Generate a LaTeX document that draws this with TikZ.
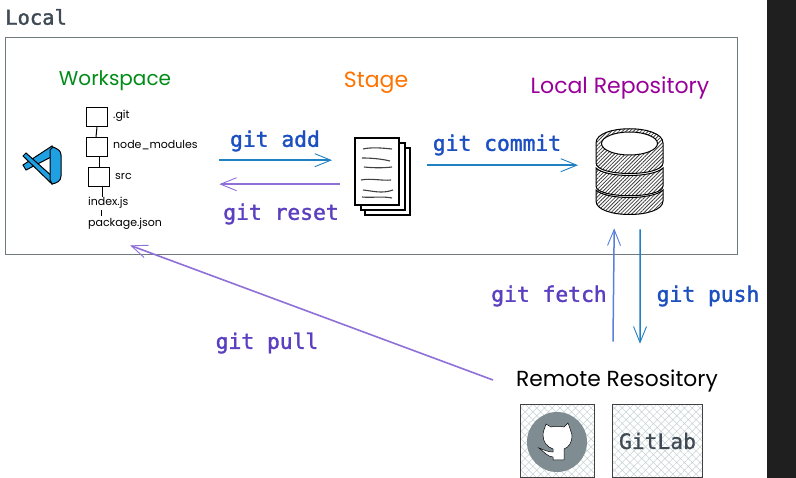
\documentclass[tikz,border=0pt]{standalone}
\usepackage{fontspec}
\usetikzlibrary{arrows.meta,patterns.meta}
\newfontfamily\handf{Poppins}
\newfontfamily\codef[FakeBold=1.6]{DejaVu Sans Mono}
\newfontfamily\plainf[FakeBold=0.8]{DejaVu Sans Mono}
\definecolor{cmdblue}{HTML}{1C4FC0}
\definecolor{cmdpurple}{HTML}{5B3FC0}
\definecolor{arrblue}{HTML}{1F80C4}
\definecolor{arrpurple}{HTML}{8F70D8}
\definecolor{arrfetch}{HTML}{5A80DC}
\definecolor{inkgray}{HTML}{3F4A54}
\definecolor{framegray}{HTML}{6F7A80}
\definecolor{logogray}{HTML}{7F8C92}
\definecolor{hatchgray}{HTML}{C5D2D6}
\definecolor{vscode}{HTML}{1FA0E3}
\tikzset{
  x=1pt,y=-1pt,
  cmd/.style={inner sep=0pt,font=\codef\fontsize{21.3}{24}\selectfont},
  title/.style={inner sep=0pt,font=\handf\fontsize{#1}{26}\selectfont},
  title/.default=20,
  small/.style={inner sep=0pt,anchor=west,font=\handf\fontsize{11}{14}\selectfont},
  sketch/.style={draw=black,line width=1pt},
  folder/.style={sketch,fill=white,inner sep=0pt,minimum width=21pt,minimum height=19pt,anchor=north west},
  group/.style={inner sep=0pt,anchor=north west},
  link/.style={line width=1.5pt,-{Straight Barb[length=16pt,width=13pt,line width=.9pt]}},
  logobox/.style={draw=black!75,line width=1pt,inner sep=0pt,anchor=north west,
    pattern={Hatch[angle=45,distance=5.5pt,line width=.5pt]},pattern color=hatchgray},
  hatched/.style={draw=black,line width=1pt,pattern={Lines[angle=45,distance=2.6pt,line width=.8pt]},pattern color=black!75},
}
\begin{document}
\begin{tikzpicture}
\useasboundingbox (0,0) rectangle (796,478);
\fill[white] (0,0) rectangle (796,478);
\fill[black!88] (767,0) rectangle (796,478);
\draw[framegray,line width=1pt] (5,38) rectangle (737,255);
\node[anchor=west,inner sep=0pt,text=inkgray,font=\codef\fontsize{20.5}{24}\selectfont] (local) at (5,17) {Local};

% titles
\node[title,text=green!50!black!90!cyan] (wstitle) at (115,81) {Workspace};
\node[title=22,text=orange!90!red] (stagetitle) at (376,83) {Stage};
\node[title=22,text=violet!80!magenta] (repotitle) at (620,88) {Local Repository};
\node[title=21.8,text=black] (remote) at (617,381) {Remote Resository};

% invisible group nodes for the connector ends
\node[group,minimum width=134pt,minimum height=130pt] (ws) at (85,105) {};
\node[group,minimum width=56pt,minimum height=77pt] (stage) at (354,138) {};
\node[group,minimum width=67pt,minimum height=88pt] (db) at (596,128) {};

% VS Code logo
\begin{scope}[draw=black,line width=1pt,fill=vscode]
\filldraw (23,165) -- (52,146) -- (55,155) -- (26,170) -- cycle;
\filldraw (23,156) -- (26,153) -- (54,178) -- (52,184) -- cycle;
\filldraw (50,150) -- (53,147) .. controls (58,149) and (61,151) .. (61,155) -- (61,176) .. controls (61,181) and (57,183) .. (52,184) -- (50,180) -- cycle;
\end{scope}

% folder tree
\node[folder] (f1) at (86,107) {};
\node[folder] (f2) at (86,137) {};
\node[folder] (f3) at (88,167) {};
\node[small] (l1) at (113,116) {.git};
\node[small] (l2) at (113,145) {node\_modules};
\node[small] (l3) at (115,176) {src};
\node[small] (l4) at (88,203) {index.js};
\node[small] (l5) at (88,224) {package.json};
\draw[sketch] (f1.south) -- ([xshift=-1pt]f2.north);
\draw[sketch] ([xshift=2pt]f2.south) -- (f3.north);
\draw[sketch] ([xshift=3pt]f3.south) -- ([xshift=3pt]l4.north -| f3.south);
\draw[sketch] (101,210) -- (101,216);

% stage pages
\draw[sketch,line width=1.2pt,fill=white] (365,148) rectangle (410,215);
\draw[sketch,line width=1.2pt,fill=white] (361,143) rectangle (405,210);
\draw[sketch,line width=1.2pt,fill=white] (355,138) rectangle (399,205);
\draw[black!75,line width=1.1pt]
  (363,149) .. controls (372,147) and (382,148) .. (392,149)
  (362,158) .. controls (372,158) and (382,159) .. (390,161)
  (364,167) .. controls (374,168) and (384,168) .. (392,167)
  (361,180) .. controls (371,178) and (382,181) .. (391,180)
  (363,190) .. controls (373,191) and (382,194) .. (393,190)
  (362,197) .. controls (372,198) and (382,196) .. (392,198);

% database
\draw[hatched] (596,143) .. controls (596,124) and (663,124) .. (663,143) -- (663,163) .. controls (663,177) and (596,177) .. (596,163) -- cycle;
\draw[hatched] (596,168) .. controls (606,178) and (653,178) .. (663,168) -- (663,186) .. controls (663,199) and (596,199) .. (596,186) -- cycle;
\draw[hatched] (596,190) .. controls (606,200) and (653,200) .. (663,190) -- (663,201) .. controls (663,219) and (596,219) .. (596,201) -- cycle;
\draw[black,line width=1pt,fill=white] (629.5,143.5) ellipse [x radius=28,y radius=11.5];

% remote logos
\node[logobox,minimum width=74pt,minimum height=73pt] (github) at (520,404) {};
\node[logobox,minimum width=90pt,minimum height=73pt,text=inkgray,font=\plainf\fontsize{21.3}{24}\selectfont] (gitlab) at (612,404) {\raisebox{-2pt}{GitLab}};
\fill[logogray] (557,442) circle [radius=30];
\draw[black,line width=.5pt,fill=white]
  (546,424) -- (551,427) .. controls (555,426) and (560,426) .. (564,427)
  -- (568,423) .. controls (570,428) and (571,432) .. (572,435)
  .. controls (572,443) and (569,447) .. (564,449) -- (564,460) -- (553,460) -- (553,457)
  .. controls (548,457) and (544,452) .. (539,448)
  .. controls (544,450) and (548,452) .. (553,452) -- (553,449)
  .. controls (547,447) and (543,442) .. (543,435) .. controls (543,431) and (545,428) .. (546,424) -- cycle;

% command labels
\node[cmd,text=cmdblue] (add) at (275,141) {git add};
\node[cmd,text=cmdblue] (commit) at (497,145) {git commit};
\node[cmd,text=cmdpurple] (reset) at (281,214) {git reset};
\node[cmd,text=cmdpurple] (fetch) at (549,296) {git fetch};
\node[cmd,text=cmdblue] (push) at (708,296) {git push};
\node[cmd,text=cmdpurple] (pull) at (267,343) {git pull};

% connectors
\draw[link,arrblue] ([yshift=10pt]ws.east) -- ([shift={(-22,-16.5)}]stage.west);
\draw[link,arrpurple] ([shift={(-14,7.5)}]stage.west) -- ([yshift=-14pt]ws.east);
\draw[link,arrblue] ([shift={(17,-11.5)}]stage.east) -- ([shift={(-18,-7)}]db.west);
\draw[link,arrfetch] ([shift={(-4,-28)}]remote.north) -- ([shift={(-15.5,12)}]db.south);
\draw[link,arrblue] ([shift={(10.5,13)}]db.south) -- ([shift={(23,-26)}]remote.north);
\draw[link,arrpurple,line width=1.6pt] ([shift={(-23,-1)}]remote.west) -- ([shift={(-22,10)}]ws.south);
\end{tikzpicture}
\end{document}
